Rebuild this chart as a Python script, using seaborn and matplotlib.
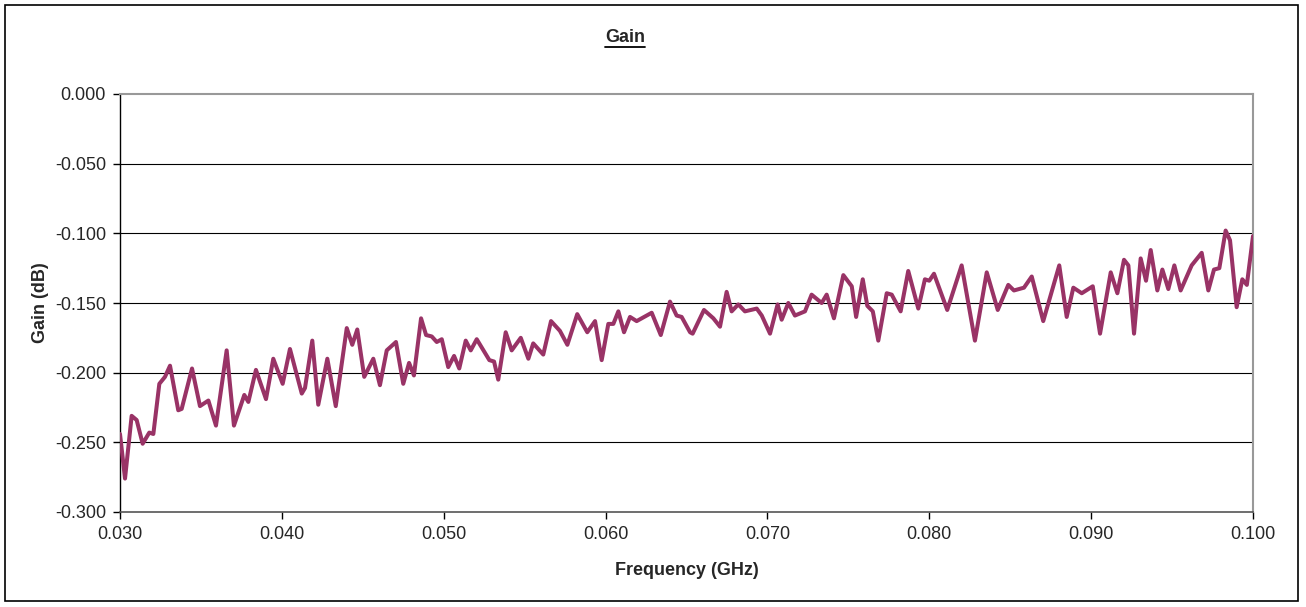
import numpy as np
import pandas as pd
import seaborn as sns
import matplotlib.pyplot as plt
from matplotlib.patches import Rectangle
from matplotlib.lines import Line2D

# Dados (pontos de máximo/mínimo da curva)
freq_ghz = [
    0.03000, 0.03031, 0.03072, 0.03103, 0.03140, 0.03181, 0.03206, 0.03243, 0.03278, 0.03309,
    0.03360, 0.03381, 0.03445, 0.03494, 0.03546, 0.03593, 0.03659, 0.03704, 0.03768, 0.03793,
    0.03840, 0.03902, 0.03947, 0.04005, 0.04050, 0.04123, 0.04143, 0.04188, 0.04225, 0.04281,
    0.04333, 0.04401, 0.04435, 0.04466, 0.04509, 0.04565, 0.04606, 0.04648, 0.04705, 0.04750,
    0.04786, 0.04816, 0.04860, 0.04891, 0.04926, 0.04957, 0.04988, 0.05028, 0.05064, 0.05096,
    0.05136, 0.05167, 0.05204, 0.05282, 0.05311, 0.05337, 0.05383, 0.05420, 0.05476, 0.05523,
    0.05553, 0.05615, 0.05663, 0.05718, 0.05764, 0.05825, 0.05887, 0.05935, 0.05976, 0.06017,
    0.06048, 0.06079, 0.06114, 0.06151, 0.06192, 0.06285, 0.06341, 0.06398, 0.06439, 0.06470,
    0.06522, 0.06538, 0.06608, 0.06666, 0.06707, 0.06748, 0.06779, 0.06820, 0.06861, 0.06934,
    0.06965, 0.07016, 0.07063, 0.07088, 0.07129, 0.07170, 0.07232, 0.07273, 0.07335, 0.07366,
    0.07411, 0.07469, 0.07521, 0.07548, 0.07589, 0.07617, 0.07651, 0.07685, 0.07737, 0.07768,
    0.07823, 0.07870, 0.07932, 0.07973, 0.08000, 0.08029, 0.08111, 0.08200, 0.08282, 0.08355,
    0.08423, 0.08488, 0.08523, 0.08585, 0.08633, 0.08704, 0.08803, 0.08849, 0.08890, 0.08942,
    0.09010, 0.09055, 0.09121, 0.09162, 0.09203, 0.09230, 0.09265, 0.09306, 0.09339, 0.09368,
    0.09409, 0.09440, 0.09477, 0.09514, 0.09553, 0.09621, 0.09683, 0.09724, 0.09759, 0.09792,
    0.09831, 0.09858, 0.09899, 0.09934, 0.09962, 0.10000,
]
gain_db = [
    -0.244, -0.276, -0.231, -0.234, -0.251, -0.243, -0.244, -0.208, -0.203, -0.195,
    -0.227, -0.226, -0.197, -0.224, -0.220, -0.238, -0.184, -0.238, -0.216, -0.221,
    -0.198, -0.219, -0.190, -0.208, -0.183, -0.215, -0.211, -0.177, -0.223, -0.190,
    -0.224, -0.168, -0.180, -0.169, -0.203, -0.190, -0.209, -0.184, -0.178, -0.208,
    -0.193, -0.202, -0.161, -0.173, -0.174, -0.178, -0.176, -0.196, -0.188, -0.197,
    -0.177, -0.184, -0.176, -0.191, -0.192, -0.205, -0.171, -0.184, -0.175, -0.190,
    -0.179, -0.187, -0.163, -0.170, -0.180, -0.158, -0.171, -0.163, -0.191, -0.165,
    -0.165, -0.156, -0.171, -0.160, -0.163, -0.157, -0.173, -0.149, -0.159, -0.160,
    -0.171, -0.172, -0.155, -0.161, -0.167, -0.142, -0.156, -0.151, -0.156, -0.154,
    -0.159, -0.172, -0.151, -0.162, -0.150, -0.159, -0.156, -0.144, -0.150, -0.144,
    -0.161, -0.130, -0.138, -0.160, -0.133, -0.152, -0.156, -0.177, -0.143, -0.144,
    -0.156, -0.127, -0.154, -0.133, -0.134, -0.129, -0.155, -0.123, -0.177, -0.128,
    -0.155, -0.137, -0.141, -0.139, -0.131, -0.163, -0.123, -0.160, -0.139, -0.143,
    -0.138, -0.172, -0.128, -0.143, -0.119, -0.123, -0.172, -0.118, -0.134, -0.112,
    -0.141, -0.126, -0.140, -0.123, -0.141, -0.123, -0.114, -0.141, -0.126, -0.125,
    -0.098, -0.105, -0.153, -0.133, -0.137, -0.102,
]
y_ticks = [0.000, -0.050, -0.100, -0.150, -0.200, -0.250, -0.300]
x_ticks = [0.030, 0.040, 0.050, 0.060, 0.070, 0.080, 0.090, 0.100]

df = pd.DataFrame({'Frequency (GHz)': freq_ghz, 'Gain (dB)': gain_db})

sns.set_style('white')
plt.rcParams['font.family'] = ['Liberation Sans', 'DejaVu Sans']

fig = plt.figure(figsize=(13.06, 6.07), dpi=100)
ax = fig.add_axes([120 / 1306, 1 - 512 / 607, 1133 / 1306, 418 / 607])

# linhas de grade horizontais
for yv in y_ticks[1:-1]:
    ax.axhline(yv, color='black', linewidth=0.8, zorder=1)

sns.lineplot(data=df, x='Frequency (GHz)', y='Gain (dB)', ax=ax, color='#993366',
             linewidth=2.9, solid_joinstyle='round', solid_capstyle='round', zorder=3)

ax.set_xlim(0.030, 0.100)
ax.set_ylim(-0.300, 0.000)
ax.set_xticks(x_ticks)
ax.set_yticks(y_ticks)
ax.set_xticklabels([f'{v:.3f}' for v in x_ticks], fontsize=13)
ax.set_yticklabels([f'{v:.3f}' for v in y_ticks], fontsize=13)
ax.tick_params(axis='both', direction='out', length=5, width=1, color='black',
               bottom=True, left=True, pad=5)

ax.set_xlabel('Frequency (GHz)', fontsize=13, fontweight='bold', labelpad=14)
ax.set_ylabel('Gain (dB)', fontsize=13, fontweight='bold')
ax.yaxis.set_label_coords(-71 / 1133, 0.5)

for side in ['top', 'right']:
    ax.spines[side].set_color('#999999')
    ax.spines[side].set_linewidth(1.5)
ax.spines['left'].set_color('black')
ax.spines['bottom'].set_color('#555555')
ax.spines['left'].set_linewidth(1)
ax.spines['bottom'].set_linewidth(1.2)

# título sublinhado
title = fig.text(625 / 1306, 1 - 38 / 607, 'Gain', fontsize=13, fontweight='bold',
                 ha='center', va='center')
fig.canvas.draw()
bb = title.get_window_extent().transformed(fig.transFigure.inverted())
fig.add_artist(Line2D([bb.x0, bb.x1], [bb.y0 - 0.001, bb.y0 - 0.001], color='black',
                      linewidth=1.3, transform=fig.transFigure))

# moldura externa do gráfico
fig.add_artist(Rectangle((5 / 1306, 6 / 607), 1293 / 1306, 596 / 607, fill=False,
                         edgecolor='black', linewidth=1.2, transform=fig.transFigure))

fig.savefig('out.png', dpi=100)
